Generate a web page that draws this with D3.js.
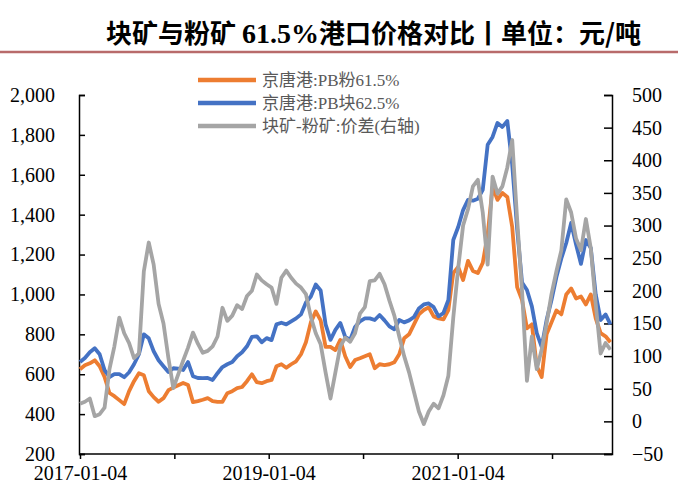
<!DOCTYPE html>
<html>
<head>
<meta charset="utf-8">
<script src="https://cdn.jsdelivr.net/npm/d3@7"></script>
<style>
  body { margin: 0; background: #fff; }
  svg { display: block; }
</style>
</head>
<body>
<div id="chart"></div>
<script>
(function(){
  // 19-day sampling from 2017-01-04
  const startDate = "2017-01-04";
  const stepDays = 19;

  const seriesNames = ["京唐港:PB粉61.5%", "京唐港:PB块62.5%", "块矿-粉矿:价差(右轴)"];
  const colors = ["#ED7D31", "#4472C4", "#A5A5A5"];

  const pbFines = [625,645,655,670,640,586,506,490,470,450,515,565,605,595,515,485,462,480,520,533,
    545,556,546,460,465,472,480,465,461,462,505,515,530,536,565,600,560,555,565,571,
    640,650,632,650,665,700,760,860,915,870,737,737,721,772,690,636,671,680,690,700,
    630,650,646,650,660,700,780,800,850,900,922,935,890,880,875,922,1107,1138,1072,1168,
    1118,1107,1158,1300,1539,1474,1509,1489,1338,1037,972,830,850,640,586,800,860,920,900,1000,
    1030,980,990,950,1000,880,806,790,760];

  const pbLump = [661,681,710,730,700,621,586,600,600,585,610,650,700,800,780,715,670,640,611,630,
    628,621,661,590,581,580,581,571,605,636,650,661,690,710,740,787,790,760,781,771,
    850,858,850,865,880,900,960,990,1050,1020,850,772,822,857,787,772,837,865,880,880,
    872,897,870,840,825,872,860,870,887,930,950,955,937,890,907,972,1273,1338,1423,1474,
    1470,1480,1524,1750,1790,1860,1840,1870,1650,1330,1060,1022,940,806,737,872,972,1087,1180,1258,
    1358,1250,1153,1273,1233,1000,872,900,850];

  const spread = [27,30,35,8,11,21,80,115,159,135,120,97,104,230,274,240,180,150,97,51,
    72,93,113,136,119,105,108,115,130,174,154,162,178,172,192,200,225,216,210,205,
    180,220,231,220,211,205,195,160,135,118,75,35,75,115,128,122,135,165,175,215,
    216,226,210,185,162,130,100,75,45,15,-4,15,27,20,40,70,159,235,300,325,
    360,370,320,240,375,349,360,389,431,310,200,62,130,80,110,150,195,230,262,340,
    320,280,262,310,265,180,104,120,110];

  const leftTicks = [200, 400, 600, 800, 1000, 1200, 1400, 1600, 1800, 2000];
  const rightTicks = [-50, 0, 50, 100, 150, 200, 250, 300, 350, 400, 450, 500];
  const xTicks = ["2017-01-04", "2018-01-04", "2019-01-04", "2020-01-04", "2021-01-04", "2022-01-04"];
  const xLabels = ["2017-01-04", "2019-01-04", "2021-01-04"];

  const width = 681, height = 504;
  const parse = d3.timeParse("%Y-%m-%d");
  const t0 = parse(startDate);
  const dates = pbFines.map((d, i) => d3.timeDay.offset(t0, i * stepDays));

  const svg = d3.select("#chart").append("svg")
    .attr("width", width).attr("height", height);

  const x = d3.scaleTime()
    .domain([t0, parse("2022-08-24")])
    .range([80, 612]);
  const yL = d3.scaleLinear().domain([200, 2000]).range([454, 95]);
  const yR = d3.scaleLinear().domain([-50, 500]).range([454, 95]);

  // title
  const title = svg.append("text")
    .attr("x", 641).attr("y", 43)
    .attr("text-anchor", "end")
    .attr("font-family", "'Noto Sans CJK SC', sans-serif")
    .attr("font-weight", "bold")
    .attr("font-size", 26)
    .attr("fill", "#000");
  title.append("tspan").text("块矿与粉矿 ");
  title.append("tspan").attr("font-family", "'Liberation Serif', serif").attr("font-size", 28).text("61.5%");
  title.append("tspan").text("港口价格对比丨单位：元/吨");

  svg.append("line")
    .attr("x1", 0).attr("x2", 678).attr("y1", 52).attr("y2", 52)
    .attr("stroke", "#B86B6B").attr("stroke-width", 2.5);

  // axes
  const axisFont = "'Liberation Serif', 'Times New Roman', serif";

  const gl = svg.append("g").attr("transform", "translate(79,0)")
    .call(d3.axisRight(yL).tickValues(leftTicks).tickSize(6).tickFormat(d3.format(",")));
  gl.selectAll("text").attr("x", -24).attr("text-anchor", "end");

  const gr = svg.append("g").attr("transform", "translate(612,0)")
    .call(d3.axisLeft(yR).tickValues(rightTicks).tickSize(8));
  gr.selectAll("text").attr("x", 20).attr("text-anchor", "start");

  const gx = svg.append("g").attr("transform", "translate(0,454)")
    .call(d3.axisBottom(x).tickValues(xTicks.map(parse)).tickSize(5)
      .tickFormat(d => xLabels.includes(d3.timeFormat("%Y-%m-%d")(d)) ? d3.timeFormat("%Y-%m-%d")(d) : ""));
  gx.selectAll("text").attr("y", 12);

  [gl, gr, gx].forEach(g => {
    g.select(".domain").attr("stroke", "#000").attr("stroke-width", 1.5);
    g.selectAll(".tick line").attr("stroke", "#000").attr("stroke-width", 1.5);
    g.selectAll("text").attr("font-family", axisFont).attr("font-size", 20).attr("fill", "#000");
  });
  gx.select(".domain").attr("d", "M79,0H612");

  // lines
  const lineL = d3.line().x((d, i) => x(dates[i])).y(d => yL(d));
  const lineR = d3.line().x((d, i) => x(dates[i])).y(d => yR(d));

  svg.append("path").datum(pbFines).attr("d", lineL)
    .attr("fill", "none").attr("stroke", colors[0]).attr("stroke-width", 3.8).attr("stroke-linejoin", "round");
  svg.append("path").datum(pbLump).attr("d", lineL)
    .attr("fill", "none").attr("stroke", colors[1]).attr("stroke-width", 3.8).attr("stroke-linejoin", "round");
  svg.append("path").datum(spread).attr("d", lineR)
    .attr("fill", "none").attr("stroke", colors[2]).attr("stroke-width", 3.8).attr("stroke-linejoin", "round");

  // legend
  const legend = svg.append("g").attr("transform", "translate(198,80)");
  seriesNames.forEach((name, i) => {
    const g = legend.append("g").attr("transform", `translate(0,${i * 23})`);
    g.append("line").attr("x1", 0).attr("x2", 58).attr("y1", 0).attr("y2", 0)
      .attr("stroke", colors[i]).attr("stroke-width", 4.5);
    g.append("text").attr("x", 64).attr("y", 6)
      .attr("font-family", "'Liberation Serif', 'Noto Sans CJK SC', serif")
      .attr("font-size", 17).attr("fill", "#595959")
      .text(name);
  });
})();
</script>
</body>
</html>
